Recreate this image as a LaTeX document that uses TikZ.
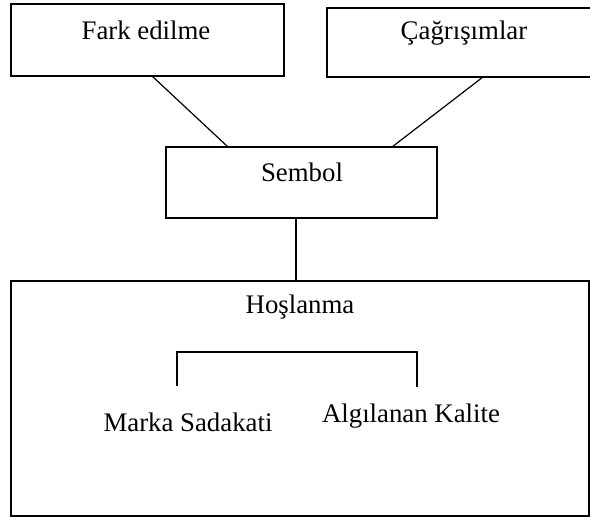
\documentclass[tikz,border=0pt]{standalone}
\usepackage{fontspec}
\setmainfont{Liberation Serif}
\begin{document}
\begin{tikzpicture}[x=0.5pt,y=-0.5pt,line width=0.6pt,
  boxshape/.style={draw,rectangle,inner sep=0pt,outer sep=0pt},
  txt/.style={inner sep=0pt,outer sep=0pt,anchor=base,font=\fontsize{13.4}{15}\selectfont}]
\useasboundingbox (0,0) rectangle (590,517);
\clip (0,0) rectangle (590,517);
% boxes
\node[boxshape,minimum width=136.5pt,minimum height=36pt] (fark) at (147.5,40) {};
\node[boxshape,minimum width=136.5pt,minimum height=34.5pt] (cag) at (463.5,42.5) {};
\node[boxshape,minimum width=135.5pt,minimum height=35.5pt] (sembol) at (301.5,182.5) {};
\node[boxshape,minimum width=289pt,minimum height=117.5pt] (hos) at (300,398.5) {};
% texts
\node[txt] (farkt) at (146,40) {Fark edilme};
\node[txt] (cagt) at (464,40) {Çağrışımlar};
\node[txt] (sembolt) at (302,182) {Sembol};
\node[txt] (host) at (300,314) {Hoşlanma};
\node[txt] (markat) at (188,432) {Marka Sadakati};
\node[txt] (algt) at (411,423) {Algılanan Kalite};
% connectors
\draw ([xshift=2.25pt]fark.south) -- ([xshift=-36.75pt]sembol.north);
\draw ([xshift=9.75pt]cag.south) -- ([xshift=45.25pt]sembol.north);
\draw ([xshift=-2.75pt]sembol.south) -- ([xshift=-2.75pt]sembol.south |- hos.north);
% bracket
\coordinate (bl) at (177,386);
\coordinate (blt) at (177,352);
\coordinate (brt) at (417,352);
\coordinate (br) at (417,387);
\draw (bl) -- (blt) -- (brt) -- (br);
\end{tikzpicture}
\end{document}
